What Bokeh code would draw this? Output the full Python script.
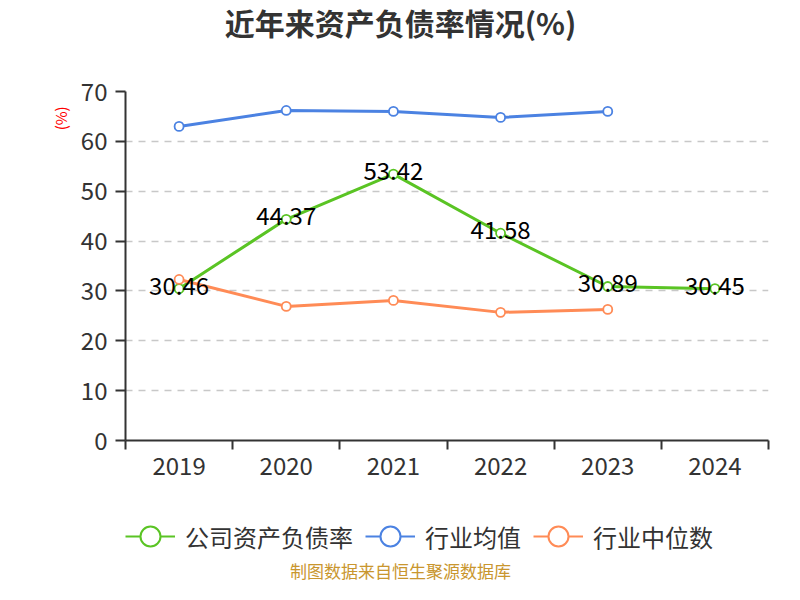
from bokeh.plotting import figure
from bokeh.layouts import column
from bokeh.models import (FixedTicker, Label, Legend, LegendItem, ColumnDataSource, Range1d)
from bokeh.core.properties import value
from bokeh.embed import file_html
from bokeh.resources import INLINE

years = ["2019", "2020", "2021", "2022", "2023", "2024"]
company = [30.46, 44.37, 53.42, 41.58, 30.89, 30.45]
industry_avg = [63.0, 66.2, 66.0, 64.8, 66.0]
industry_median = [32.3, 26.9, 28.1, 25.7, 26.3]
y_ticks = [0, 10, 20, 30, 40, 50, 60, 70]

title_text = "近年来资产负债率情况(%)"
footer_text = "制图数据来自恒生聚源数据库"
y_unit = "(%)"
series_names = ["公司资产负债率", "行业均值", "行业中位数"]
colors = ["#5ac424", "#4b82e2", "#ff8b56"]

FONT = "Noto Sans CJK SC"
W = 784
LEFT, RIGHT = 125, 16          # plot frame borders (shared by all stacked figures)
TOP_H, MAIN_H, BOT_H = 50, 440, 94


def blank_fig(h):
    # frames of stacked figures are aligned with the main chart's frame
    f = figure(width=W, height=h, output_backend="svg", toolbar_location=None,
               x_range=Range1d(LEFT, W - RIGHT), y_range=Range1d(0, h),
               x_axis_type=None, y_axis_type=None)
    f.min_border_left = LEFT
    f.min_border_right = RIGHT
    f.min_border_top = 0
    f.min_border_bottom = 0
    f.outline_line_color = None
    f.xgrid.visible = False
    f.ygrid.visible = False
    return f


# ---- title figure
top = blank_fig(TOP_H)
top.add_layout(Label(x=400, y=TOP_H - 21, text=title_text, text_align="center",
                     text_baseline="middle", text_font=FONT, text_font_size="30px",
                     text_font_style="bold", text_color="#333333"))

# ---- main chart
xpos = [i + 0.5 for i in range(len(years))]

p = figure(width=W, height=MAIN_H, output_backend="svg", toolbar_location=None,
           x_range=Range1d(0, len(years)), y_range=Range1d(0, 70))
p.min_border_left = LEFT
p.min_border_right = RIGHT
p.min_border_top = 41
p.min_border_bottom = 50
p.outline_line_color = None

p.xaxis.ticker = FixedTicker(ticks=xpos, minor_ticks=list(range(len(years) + 1)))
p.xaxis.major_label_overrides = {x: y for x, y in zip(xpos, years)}
p.xaxis.major_tick_out = 0
p.xaxis.major_tick_in = 0
p.xaxis.minor_tick_out = 9
p.xaxis.minor_tick_in = 0
p.xaxis.minor_tick_line_color = "#333333"
p.xaxis.minor_tick_line_width = 2
p.xaxis.axis_line_color = "#333333"
p.xaxis.axis_line_width = 2
p.xaxis.major_label_text_font = FONT
p.xaxis.major_label_text_font_size = "24px"
p.xaxis.major_label_text_color = "#333333"
p.xaxis.major_label_standoff = 7

p.yaxis.ticker = FixedTicker(ticks=y_ticks)
p.yaxis.major_tick_out = 10
p.yaxis.major_tick_in = 0
p.yaxis.minor_tick_line_color = None
p.yaxis.major_tick_line_color = "#333333"
p.yaxis.major_tick_line_width = 2
p.yaxis.axis_line_color = "#333333"
p.yaxis.axis_line_width = 2
p.yaxis.major_label_text_font = FONT
p.yaxis.major_label_text_font_size = "24px"
p.yaxis.major_label_text_color = "#333333"
p.yaxis.major_label_standoff = 8
# unit label near the top of the value axis (non-breaking spaces push it down)
p.yaxis.axis_label = y_unit + "\u00a0" * 16
p.yaxis.axis_label_align = "end"
p.yaxis.axis_label_standoff = 7
p.yaxis.axis_label_text_font = FONT
p.yaxis.axis_label_text_font_size = "15px"
p.yaxis.axis_label_text_font_style = "normal"
p.yaxis.axis_label_text_color = "#ff0000"

p.xgrid.grid_line_color = None
p.ygrid.ticker = FixedTicker(ticks=y_ticks[1:])
p.ygrid.grid_line_color = "#c8c8c8"
p.ygrid.grid_line_dash = "7 6"
p.ygrid.grid_line_width = 1.5

src_c = ColumnDataSource(dict(x=xpos, y=company, t=[f"{v:.2f}" for v in company]))
src_a = ColumnDataSource(dict(x=xpos[:len(industry_avg)], y=industry_avg))
src_m = ColumnDataSource(dict(x=xpos[:len(industry_median)], y=industry_median))
sources = [src_c, src_a, src_m]

for src, col in zip(sources, colors):
    p.line("x", "y", source=src, line_color=col, line_width=3)
    p.scatter("x", "y", source=src, size=9, marker="circle",
              fill_color="white", line_color=col, line_width=1.8)

p.text("x", "y", text="t", source=src_c, text_align="center",
       text_baseline="middle", y_offset=-3, text_font=value(FONT),
       text_font_size="24px", text_color="#000000")

# ---- legend + footer figure
bot = blank_fig(BOT_H)
items = []
for src, col, name in zip(sources, colors, series_names):
    lr = bot.line("x", "y", source=src, line_color=col, line_width=2, visible=False)
    sr = bot.scatter("x", "y", source=src, marker="circle", fill_color="white",
                     line_color=col, line_width=2, visible=False)
    items.append(LegendItem(label=name, renderers=[lr, sr]))

legend = Legend(items=items, orientation="horizontal", location=(0, 22),
                glyph_width=50, glyph_height=52, label_standoff=10, spacing=12,
                padding=0, margin=0, border_line_color=None,
                background_fill_alpha=0, click_policy="none",
                label_text_font=FONT, label_text_font_size="24px",
                label_text_color="#333333")
bot.add_layout(legend, "center")

bot.add_layout(Label(x=400, y=14, text=footer_text, text_align="center",
                     text_baseline="middle", text_font=FONT, text_font_size="17px",
                     text_color="#c9962e"))

layout = column(top, p, bot, spacing=0)
open("out.html", "w").write(file_html(layout, INLINE))
